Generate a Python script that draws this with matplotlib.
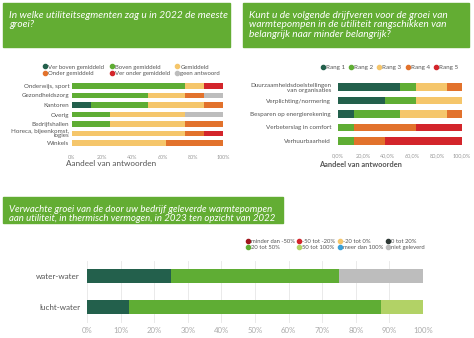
import matplotlib
matplotlib.use('Agg')
import matplotlib.pyplot as plt
import numpy as np
from matplotlib.lines import Line2D
from matplotlib.patches import Rectangle

plt.rcParams['font.family'] = ['Lato', 'DejaVu Sans']

# ---------------- data ----------------
seg_cats = ['Onderwijs, sport', 'Gezondheidszorg', 'Kantoren', 'Overig',
            'Bedrijfshallen', 'Horeca, bijeenkomst,\nlogies', 'Winkels']
seg_names = ['Ver boven gemiddeld', 'Boven gemiddeld', 'Gemiddeld',
             'Onder gemiddeld', 'Ver onder gemiddeld', 'geen antwoord']
seg_vals = [
    [0, 0, 12.5, 0, 0, 0, 0],          # ver boven
    [75, 50, 37.5, 25, 25, 0, 0],      # boven
    [12.5, 25, 37.5, 50, 50, 75, 62.5],  # gemiddeld
    [0, 12.5, 12.5, 0, 25, 12.5, 37.5],  # onder
    [12.5, 0, 0, 0, 0, 12.5, 0],       # ver onder
    [0, 12.5, 0, 25, 0, 0, 0],         # geen antwoord
]

drv_cats = ['Duurzaamheidsdoelstellingen\nvan organisaties', 'Verplichting/normering',
            'Besparen op energierekening', 'Verbeterslag in comfort', 'Verhuurbaarheid']
drv_names = ['Rang 1', 'Rang 2', 'Rang 3', 'Rang 4', 'Rang 5']
drv_vals = [
    [50, 37.5, 12.5, 0, 0],
    [12.5, 25, 37.5, 12.5, 12.5],
    [25, 37.5, 37.5, 0, 0],
    [12.5, 0, 12.5, 50, 25],
    [0, 0, 0, 37.5, 62.5],
]

grw_cats = ['water-water', 'lucht-water']
grw_names = ['minder dan -50%', '-50 tot -20%', '-20 tot 0%', '0 tot 20%',
             '20 tot 50%', '50 tot 100%', 'meer dan 100%', 'niet geleverd']
grw_vals = [
    [0, 0], [0, 0], [0, 0],
    [25, 12.5],
    [50, 75],
    [0, 12.5],
    [0, 0],
    [25, 0],
]

DKG = '#23604c'
GRN = '#5fad34'
YEL = '#f5c66b'
ORA = '#e2722c'
RED = '#d3252b'
GRY = '#bdbdbd'
LGR = '#b2d266'
DRD = '#a0171e'
BLU = '#3aa0d8'
BOX = '#63ad33'

seg_cols = [DKG, GRN, YEL, ORA, RED, GRY]
drv_cols = [DKG, GRN, YEL, ORA, RED]
grw_cols = [DRD, RED, YEL, DKG, GRN, LGR, BLU, GRY]
grw_mark = [DRD, RED, YEL, '#2f3a36', GRN, LGR, BLU, GRY]

W, H = 474, 338
fig = plt.figure(figsize=(W / 100, H / 100), dpi=100)


def px(x0, y0, x1, y1):
    return [x0 / W, 1 - y1 / H, (x1 - x0) / W, (y1 - y0) / H]


def title_box(x0, y0, x1, y1, text, size, ls):
    fig.patches.append(Rectangle((x0 / W, 1 - y1 / H), (x1 - x0) / W, (y1 - y0) / H,
                                 transform=fig.transFigure, color=BOX, zorder=0))
    fig.text((x0 + 6) / W, 1 - (y0 + 8) / H, text, color='white', style='italic',
             fontsize=size, va='top', ha='left', linespacing=ls)


def stacked(ax, cats, vals, cols, h):
    y = np.arange(len(cats))
    left = np.zeros(len(cats))
    for v, c in zip(vals, cols):
        v = np.array(v, dtype=float)
        ax.barh(y, v, left=left, height=h, color=c, linewidth=0)
        left += v
    ax.set_yticks(y)
    ax.set_yticklabels(cats)
    ax.set_ylim(len(cats) - 0.5, -0.5)
    ax.set_xlim(0, 100)
    for s in ax.spines.values():
        s.set_visible(False)
    ax.tick_params(length=0)


def legend(x, y, names, cols, ncol, size, colsp):
    # matplotlib fills legends column by column; reorder so rows read left to right
    nrow = int(np.ceil(len(names) / ncol))
    order = [r * ncol + c for c in range(ncol) for r in range(nrow) if r * ncol + c < len(names)]
    hs = [Line2D([], [], marker='o', ls='', color=cols[i], markersize=3) for i in order]
    fig.legend(hs, [names[i] for i in order], loc='upper left',
               bbox_to_anchor=(x / W, 1 - y / H),
               ncol=ncol, frameon=False, fontsize=size, handletextpad=0.1,
               columnspacing=colsp, handlelength=0.8, borderaxespad=0,
               labelspacing=0.15, labelcolor='#555555')


# ---------------- top left ----------------
title_box(3, 3, 230, 47, 'In welke utiliteitsegmenten zag u in 2022 de meeste\ngroei?', 7.3, 1.05)
legend(40, 62, seg_names, seg_cols, 3, 4.3, 0.9)
ax1 = fig.add_axes(px(72, 81.25, 223, 147.75))
stacked(ax1, seg_cats, seg_vals, seg_cols, 0.62)
ax1.set_xticks([0, 20, 40, 60, 80, 100])
ax1.set_xticklabels(['0%', '20%', '40%', '60%', '80%', '100%'])
ax1.tick_params(axis='x', labelsize=3.9, labelcolor='#999999', pad=5)
ax1.tick_params(axis='y', labelsize=4.5, labelcolor='#555555', pad=2)
for t in ax1.get_yticklabels():
    t.set_linespacing(0.85)
ax1.set_xlabel('Aandeel van antwoorden', fontsize=5.9, color='#555555')
ax1.xaxis.set_label_coords(0.26, -0.19)

# ---------------- top right ----------------
title_box(243, 3, 469, 47, 'Kunt u de volgende drijfveren voor de groei van\n'
          'warmtepompen in de utiliteit rangschikken van\n'
          'belangrijk naar minder belangrijk?', 7.3, 1.05)
legend(318, 62, drv_names, drv_cols, 5, 4.5, 0.55)
ax2 = fig.add_axes(px(338, 80.25, 462, 147.75))
stacked(ax2, drv_cats, drv_vals, drv_cols, 0.55)
ax2.set_xticks([0, 20, 40, 60, 80, 100])
ax2.set_xticklabels(['0,0%', '20,0%', '40,0%', '60,0%', '80,0%', '100,0%'])
ax2.tick_params(axis='x', labelsize=4.0, labelcolor='#999999', pad=4)
ax2.tick_params(axis='y', labelsize=4.5, labelcolor='#555555', pad=5)
for t in ax2.get_yticklabels():
    t.set_linespacing(1.1)
ax2.set_xlabel('Aandeel van antwoorden', fontsize=5.3, color='#555555',
               fontweight='bold')
ax2.xaxis.set_label_coords(0.185, -0.19)

# ---------------- bottom ----------------
title_box(3, 197, 283, 223, 'Verwachte groei van de door uw bedrijf geleverde warmtepompen\n'
          'aan utiliteit, in thermisch vermogen, in 2023 ten opzicht van 2022', 6.9, 1.05)
ax3 = fig.add_axes(px(87, 260.5, 423, 322.5))
legend(243, 237, grw_names, grw_mark, 4, 4.2, 0.4)
stacked(ax3, grw_cats, grw_vals, grw_cols, 0.43)
ax3.set_xticks(np.arange(0, 101, 10))
ax3.set_xticklabels([f'{v}%' for v in range(0, 101, 10)])
ax3.grid(axis='x', color='#e6e6e6', linewidth=0.6)
ax3.set_axisbelow(True)
ax3.tick_params(axis='x', labelsize=5.6, labelcolor='#aaaaaa', pad=3)
ax3.tick_params(axis='y', labelsize=5.8, labelcolor='#555555', pad=5)

fig.savefig('out.png', dpi=100)
